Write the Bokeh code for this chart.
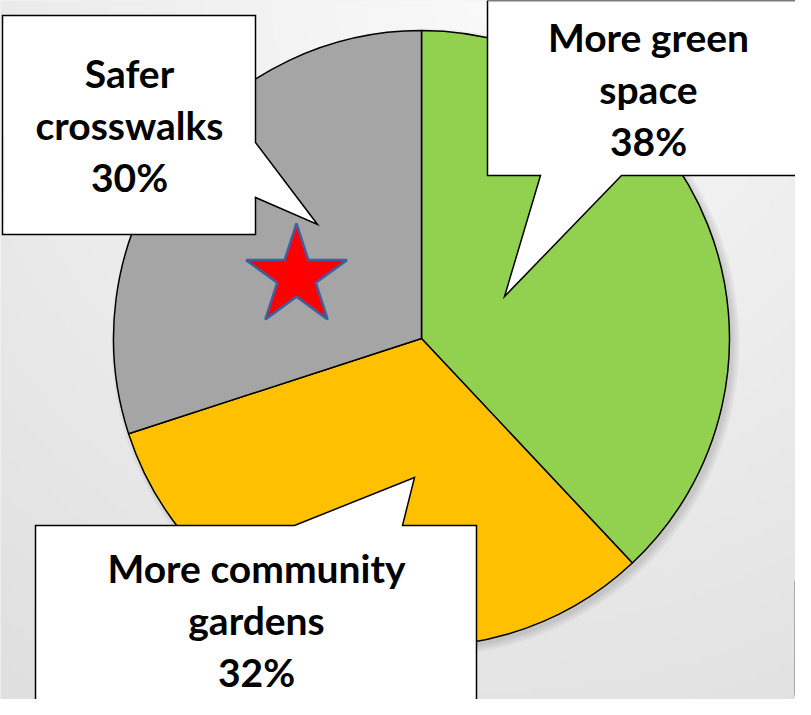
import numpy as np
from bokeh.plotting import figure
from bokeh.models import Range1d
from bokeh.embed import file_html
from bokeh.resources import INLINE
from bokeh.core.properties import value

# ---- data ----
categories = ["More green space", "More community gardens", "Safer crosswalks"]
shares = [38, 32, 30]
slice_colors = ["#92D050", "#FFC000", "#A5A5A5"]
label_lines = [["More green", "space"], ["More community", "gardens"], ["Safer", "crosswalks"]]

# ---- layout (reference pixel space, y down) ----
W, H, M = 811, 715, 8
CX, CY, R = 429, 346, 308
FONT = "Lato"
FSIZE = 39
LINE_GAP = 52
BASE_FIX = 13
text_anchor = [(656, 57), (264, 588), (137, 93)]   # centre x, first baseline (px)
callouts = [
    [(495, 8), (830, 8), (830, 183), (629, 183), (512, 304), (548, 183), (495, 183)],
    [(43, 533), (302, 533), (422, 485), (410, 533), (484, 533), (484, 740), (43, 740)],
    [(10, 23), (263, 23), (263, 150), (325, 232), (263, 205), (263, 242), (10, 242)],
]
extra_box = [(803, 589), (840, 589), (840, 702), (803, 702)]


def Y(py):
    return H - py


p = figure(width=W - 2 * M, height=H - 2 * M,
           x_range=Range1d(M, W - M), y_range=Range1d(M, H - M),
           output_backend="svg", toolbar_location=None, min_border=0)
p.axis.visible = False
p.grid.visible = False
p.outline_line_color = None
p.background_fill_color = "#e8e8e8"
p.border_fill_color = "#e8e8e8"

# background gradient (style only)
nx, ny = 160, 140
xs = M + (np.arange(nx) + 0.5) * (W - 2 * M) / nx
ys = M + (np.arange(ny) + 0.5) * (H - 2 * M) / ny
gx, gy = np.meshgrid(xs, ys)
py = H - gy
d = np.hypot(gx - 500, py)
g = np.clip(250 - 27 * d / 860, 215, 250).astype(np.uint8)
img = np.zeros((ny, nx, 4), dtype=np.uint8)
img[..., 0] = g
img[..., 1] = g
img[..., 2] = g
img[..., 3] = 255
p.image_rgba(image=[img.view(dtype=np.uint32).reshape(ny, nx)], x=M, y=M,
             dw=W - 2 * M, dh=H - 2 * M)

# soft shadow of the pie
for k in range(0, 8, 2):
    p.circle(x=CX + 4, y=Y(CY) - 4, radius=R + k, fill_color="black",
             fill_alpha=0.035, line_color=None)

# pie
fr = np.array(shares, dtype=float) / sum(shares)
cum = np.concatenate([[0.0], np.cumsum(fr)])
start = np.pi / 2 - 2 * np.pi * cum[:-1]
end = np.pi / 2 - 2 * np.pi * cum[1:]
p.wedge(x=[CX] * len(shares), y=[Y(CY)] * len(shares), radius=R,
        start_angle=list(start), end_angle=list(end), direction="clock",
        fill_color=slice_colors, line_color="black", line_width=1.5)

# star marker
p.scatter(x=[304], y=[Y(284)], marker="star", size=106, fill_color="#FF0000",
          line_color="#3F5FA0", line_width=2.5)

# callouts
for poly in callouts + [extra_box]:
    p.patch([q[0] for q in poly], [Y(q[1]) for q in poly], fill_color="white",
            line_color="black", line_width=1.5, line_join="miter")

# labels
tx, ty, tt = [], [], []
for i, lines in enumerate(label_lines):
    all_lines = lines + [f"{shares[i]}%"]
    cx, b0 = text_anchor[i]
    for k, s in enumerate(all_lines):
        tx.append(cx)
        ty.append(Y(b0 + k * LINE_GAP - BASE_FIX))
        tt.append(s)
p.text(x=tx, y=ty, text=tt, text_font=value(FONT), text_font_style="bold",
       text_font_size=f"{FSIZE}px", text_align="center",
       text_baseline="alphabetic", text_color="black")

open("out.html", "w").write(file_html(p, INLINE))
